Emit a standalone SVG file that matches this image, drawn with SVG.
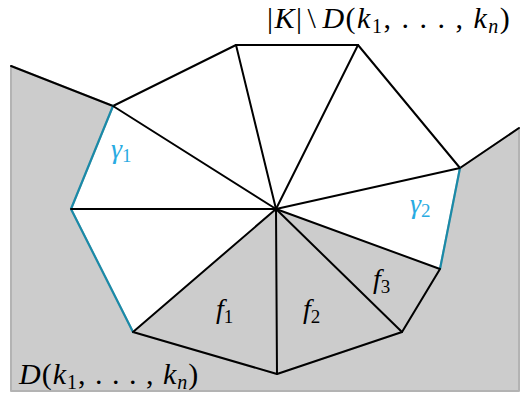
<svg xmlns="http://www.w3.org/2000/svg" width="520" height="398" viewBox="0 0 520 398">
<style>
.gray{fill:#cccccc;stroke:#b3b3b3;stroke-width:2;stroke-linejoin:round}
.tri{fill:#cccccc;stroke:none}
.edge{stroke:#000;stroke-width:2;fill:none;stroke-linecap:round;stroke-linejoin:round}
.blue{stroke:#1a8aa8;stroke-width:2.2;fill:none;stroke-linecap:round;stroke-linejoin:round}
.t{font-family:"Liberation Serif","DejaVu Serif",serif;fill:#000}
.i{font-style:italic}
.g{fill:#29abe2}
</style>
<g id="region-D">
<polygon class="gray" points="11,66 113,106 71,209 133,332 277,374 402,332 440,269 460,168 519,128 519,391 11,391"/>
<polygon class="tri" points="276,209 133,332 277,374 402,332 440,269"/>
</g>
<g id="connectors">
<polyline class="edge" points="11,66 113,106 236,45 358,45 460,168 519,128"/>
<polyline class="edge" points="440,269 402,332 277,374 133,332"/>
<polyline class="blue" points="113,106 71,209 133,332"/>
<line class="blue" x1="460" y1="168" x2="440" y2="269"/>
<g class="edge">
<line x1="276" y1="209" x2="113" y2="106"/>
<line x1="276" y1="209" x2="236" y2="45"/>
<line x1="276" y1="209" x2="358" y2="45"/>
<line x1="276" y1="209" x2="460" y2="168"/>
<line x1="276" y1="209" x2="440" y2="269"/>
<line x1="276" y1="209" x2="402" y2="332"/>
<line x1="276" y1="209" x2="277" y2="374"/>
<line x1="276" y1="209" x2="133" y2="332"/>
<line x1="276" y1="209" x2="71" y2="209"/>
</g>
</g>
<g id="label-top"><text class="t" x="267" y="28" font-size="30" letter-spacing="1.5">|<tspan class="i">K</tspan>|<tspan dx="4">\</tspan><tspan class="i" dx="5">D</tspan>(<tspan class="i">k</tspan><tspan font-size="20" dy="5">1</tspan><tspan dy="-5">, . . . , </tspan><tspan class="i">k</tspan><tspan class="i" font-size="20" dy="5">n</tspan><tspan dy="-5">)</tspan></text></g>
<g id="label-D"><text class="t" x="19" y="384" font-size="30" letter-spacing="1"><tspan class="i">D</tspan>(<tspan class="i">k</tspan><tspan font-size="20" dy="5">1</tspan><tspan dy="-5">, . . . , </tspan><tspan class="i">k</tspan><tspan class="i" font-size="20" dy="5">n</tspan><tspan dy="-5">)</tspan></text></g>
<g id="gamma1"><text class="t g" x="111" y="158" font-size="28"><tspan class="i">γ</tspan><tspan font-size="19" dy="4">1</tspan></text></g>
<g id="gamma2"><text class="t g" x="410" y="213" font-size="28"><tspan class="i">γ</tspan><tspan font-size="19" dy="4">2</tspan></text></g>
<g id="f1"><text class="t" x="216" y="318" font-size="28"><tspan class="i">f</tspan><tspan font-size="19" dy="5">1</tspan></text></g>
<g id="f2"><text class="t" x="303" y="318" font-size="28"><tspan class="i">f</tspan><tspan font-size="19" dy="5">2</tspan></text></g>
<g id="f3"><text class="t" x="373" y="288" font-size="28"><tspan class="i">f</tspan><tspan font-size="19" dy="5">3</tspan></text></g>
</svg>
